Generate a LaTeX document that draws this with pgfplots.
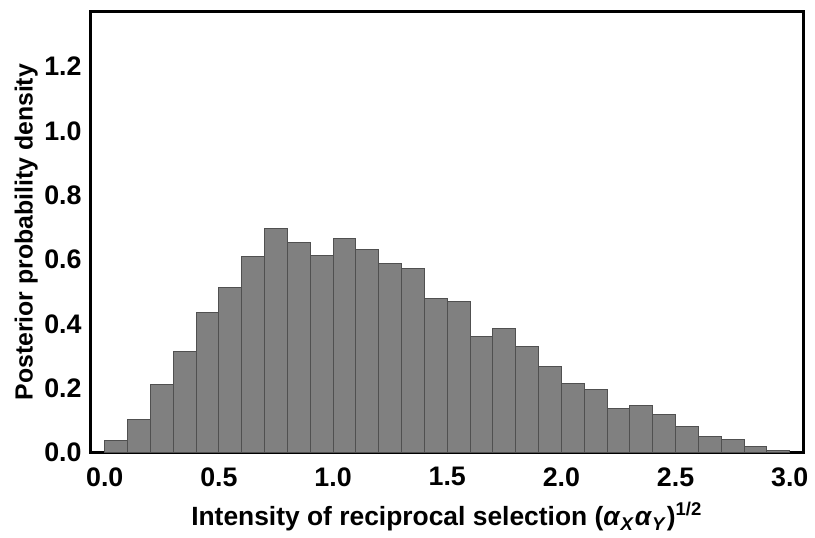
\documentclass[border=0pt]{standalone}
\usepackage{fontspec}
\setmainfont{Liberation Sans}
\usepackage{pgfplots}
\usepackage{pgfplotstable}
\pgfplotsset{compat=1.18}
\definecolor{barfill}{RGB}{128,128,128}
\definecolor{baredge}{RGB}{80,80,80}

% histogram bins: left edge and density (last row closes the interval)
\pgfplotstableread{
x     d
0.0   0.037
0.1   0.104
0.2   0.211
0.3   0.313
0.4   0.436
0.5   0.512
0.6   0.609
0.7   0.698
0.8   0.652
0.9   0.612
1.0   0.666
1.1   0.631
1.2   0.587
1.3   0.572
1.4   0.480
1.5   0.470
1.6   0.361
1.7   0.384
1.8   0.330
1.9   0.268
2.0   0.214
2.1   0.195
2.2   0.138
2.3   0.146
2.4   0.117
2.5   0.082
2.6   0.049
2.7   0.040
2.8   0.017
2.9   0.005
3.0   0.005
}\posterior

\begin{document}
\begin{tikzpicture}
\begin{axis}[
  scale only axis,
  width=359pt, height=222pt,
  xmin=-0.062, xmax=3.058,
  ymin=0, ymax=1.37,
  xtick={0,0.5,...,3.0},
  ytick={0,0.2,...,1.2},
  major tick length=0pt,
  axis line style={line width=1.5pt},
  /pgf/number format/assume math mode=true,
  /pgf/number format/.cd, fixed, fixed zerofill, precision=1,
  /pgfplots/.cd,
  tick label style={font=\fontsize{13.5}{15}\selectfont\bfseries},
  xlabel style={font=\fontsize{13.3}{15}\selectfont\bfseries, yshift=-1pt},
  ylabel style={font=\fontsize{12.5}{14}\selectfont\bfseries, yshift=-3.5pt},
  xticklabel style={yshift=-4pt},
  yticklabel style={xshift=-1pt},
  xlabel={Intensity of reciprocal selection (\textit{α}\textsubscript{\textit{X}}\textit{α}\textsubscript{\textit{Y}})\textsuperscript{1/2}},
  ylabel={Posterior probability density},
  clip=false,
]
\addplot[ybar interval, fill=barfill, draw=baredge, line width=0.5pt] table[x=x, y=d] {\posterior};
\end{axis}
\path ([yshift=6pt]current axis.north) ([xshift=-4pt]current axis.outer west);
\end{tikzpicture}
\end{document}
